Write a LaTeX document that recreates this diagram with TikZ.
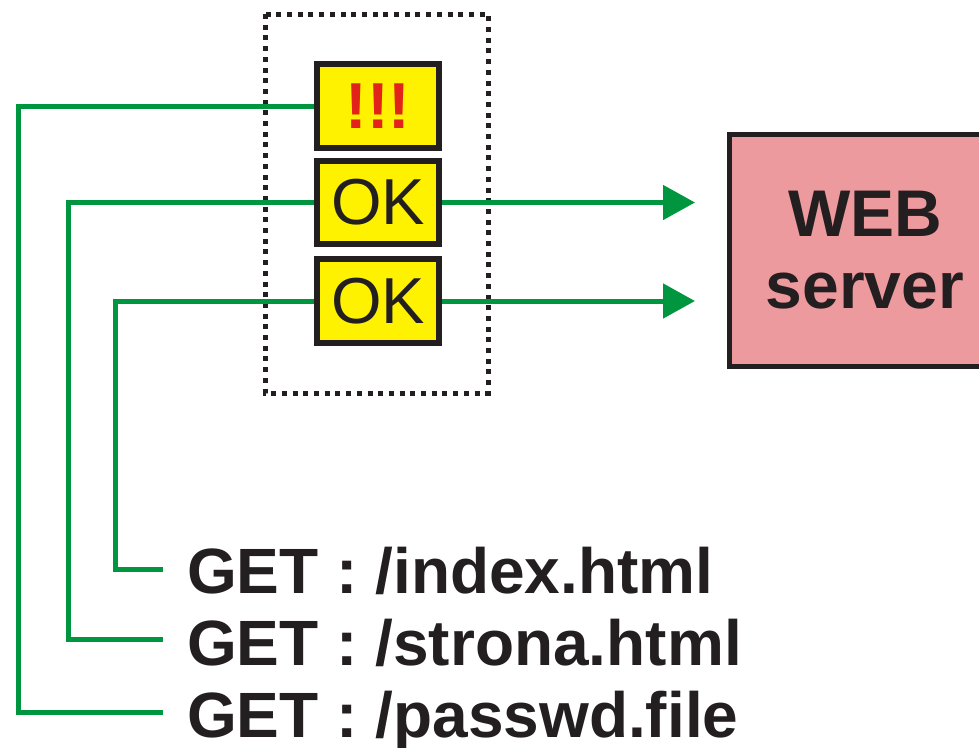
\documentclass[tikz,border=0pt]{standalone}
\usepackage{fontspec}
\setmainfont{Liberation Sans}
\usetikzlibrary{arrows.meta,calc}
\definecolor{linkgreen}{RGB}{0,150,64}
\definecolor{boxyellow}{RGB}{255,242,0}
\definecolor{serverpink}{RGB}{237,154,158}
\definecolor{inkblack}{RGB}{35,31,32}
\definecolor{alertred}{RGB}{226,35,26}
\tikzset{
  filterbox/.style={draw=inkblack, line width=6pt, fill=boxyellow,
    minimum width=122pt, inner sep=0pt, font=\fontsize{65}{72}\selectfont, text=inkblack},
  serverbox/.style={draw=inkblack, line width=5pt, fill=serverpink,
    minimum width=271pt, minimum height=232pt, inner sep=0pt, align=center,
    font=\fontsize{66}{72}\bfseries\selectfont, text=inkblack},
  request/.style={anchor=base west, inner sep=0pt,
    font=\fontsize{64}{72}\bfseries\selectfont, text=inkblack},
  route/.style={draw=linkgreen, line width=5pt},
  pass/.style={route, -{Triangle[length=32pt,width=34pt]}, shorten >=32pt},
  guard/.style={draw=inkblack, line width=5pt, dash pattern=on 5pt off 5.7pt}
}
\begin{document}
\begin{tikzpicture}[x=1pt,y=-1pt]
  \useasboundingbox (0,0) rectangle (979,747);
  \clip (0,0) rectangle (979,747);

  % filter frame
  \draw[guard] (265,14) rectangle (488,393);

  % rule boxes
  \node[filterbox, minimum height=84pt] (b1) at (378,106)
    {\textcolor{alertred}{\bfseries !!!}};
  \node[filterbox, minimum height=83pt] (b2) at (378,202.5) {OK};
  \node[filterbox, minimum height=84pt] (b3) at (378,301) {OK};

  % server
  \node[serverbox] (web) at (865,250.5) {WEB\\server};

  % requests
  \node[request] (r1) at (187,593) {GET : /index.html};
  \node[request] (r2) at (187,665) {GET : /strona.html};
  \node[request] (r3) at (187,737) {GET : /passwd.file};

  % line ends and corner columns
  \coordinate (e1) at (163,569);
  \coordinate (e2) at (163,639);
  \coordinate (e3) at (163,712);
  \coordinate (k1) at (115,400);
  \coordinate (k2) at (68,400);
  \coordinate (k3) at (18,400);

  % request routes into the filter
  \draw[route] (b3.west) -| (k1) |- (e1);
  \draw[route] (b2.west) -| (k2) |- (e2);
  \draw[route] (b1.west) -| (k3) |- (e3);

  % accepted requests forwarded to the server
  \draw[pass] (b2.east) -- (b2.east -| web.west);
  \draw[pass] (b3.east) -- (b3.east -| web.west);
\end{tikzpicture}
\end{document}
